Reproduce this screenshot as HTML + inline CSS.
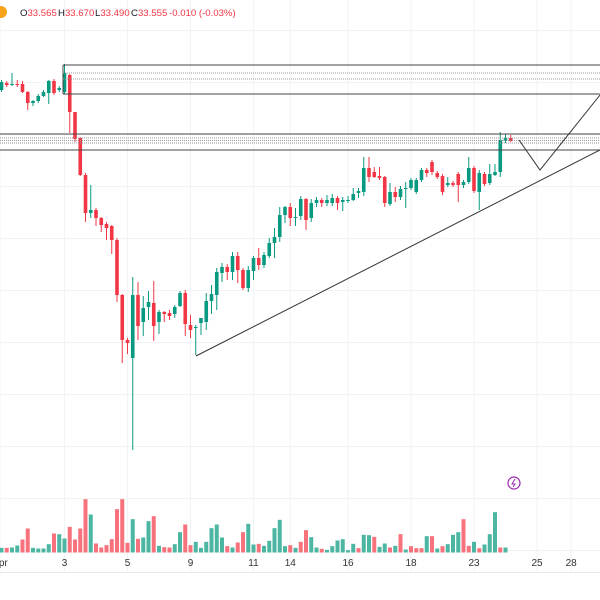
<!DOCTYPE html>
<html><head><meta charset="utf-8"><style>
html,body{margin:0;padding:0;background:#fff;}
svg{display:block;font-family:"Liberation Sans",sans-serif;}
</style></head><body>
<svg id="chart" width="600" height="600" viewBox="0 0 600 600">
<g id="grid"></g>
<g id="vol"></g>
<g id="candles"></g>
<g fill="none">
<path d="M63 65V94M63 65H600M63 94H600" stroke="#444" stroke-width="1"/>
<path d="M63 73H600M63 79H600" stroke="#999" stroke-dasharray="1,1"/>
<path d="M0 134H600M0 150H600" stroke="#444"/>
<path d="M0 138H600M0 140.5H600M0 143H600" stroke="#999" stroke-dasharray="1,1"/>
<path d="M196 356L600 150" stroke="#333"/>
<path d="M519 140L540 170L600 95" stroke="#333"/>
</g>
<g font-size="9.6">
<circle cx="1" cy="12" r="6" fill="#f7a21b"/>
<text y="16"><tspan x="20" fill="#131722">O</tspan><tspan fill="#f23645">33.565</tspan><tspan x="58" fill="#131722">H</tspan><tspan fill="#f23645">33.670</tspan><tspan x="95" fill="#131722">L</tspan><tspan fill="#f23645">33.490</tspan><tspan x="131" fill="#131722">C</tspan><tspan fill="#f23645">33.555</tspan><tspan x="169" fill="#f23645">-0.010 (-0.03%)</tspan></text>
</g>
<g>
<circle cx="514" cy="483" r="6" fill="none" stroke="#9c27b0" stroke-width="1.2"/>
<path d="M515 479L512 484H515L513 487" stroke="#9c27b0" fill="none" stroke-width="1"/>
</g>
<line x1="0" y1="572.5" x2="600" y2="572.5" stroke="#e8e8ea"/>
<g id="xaxis" font-size="10" fill="#333" text-anchor="middle"></g>
</svg>
<script>
const opens=[34.00,34.07,34.06,34.06,34.06,33.98,33.87,33.89,33.94,33.97,34.09,34.00,33.98,34.15,33.78,33.52,33.15,32.77,32.80,32.72,32.66,32.64,32.50,31.95,31.50,31.32,31.95,31.68,31.83,31.87,31.68,31.78,31.77,31.76,31.84,31.97,31.65,31.63,31.67,31.68,31.89,31.95,32.17,32.23,32.18,32.34,32.20,32.02,32.19,32.32,32.25,32.34,32.47,32.53,32.75,32.83,32.72,32.74,32.91,32.72,32.87,32.90,32.87,32.87,32.92,32.88,32.90,32.90,32.97,32.98,33.22,33.18,33.14,33.13,32.86,32.98,32.93,33.01,33.02,32.98,33.10,33.20,33.28,33.17,33.14,33.05,33.07,33.16,33.05,33.08,33.22,32.98,33.16,33.07,33.15,33.18,33.49,33.52];
const closes=[34.08,34.05,34.06,34.05,33.98,33.87,33.89,33.94,33.98,34.09,33.97,34.02,34.17,33.78,33.51,33.15,32.77,32.80,32.72,32.65,32.62,32.50,31.95,31.50,31.47,31.95,31.64,31.82,31.88,31.64,31.78,31.76,31.74,31.83,31.97,31.66,31.60,31.63,31.72,31.89,31.96,32.18,32.23,32.18,32.34,32.20,32.02,32.20,32.32,32.25,32.35,32.47,32.53,32.75,32.83,32.72,32.73,32.91,32.70,32.87,32.90,32.87,32.90,32.92,32.87,32.90,32.90,32.96,32.99,33.22,33.13,33.13,33.12,32.87,32.98,32.93,33.01,33.02,33.10,33.10,33.20,33.17,33.18,33.13,32.98,33.07,33.05,33.05,33.08,33.22,32.99,33.17,33.06,33.16,33.18,33.50,33.52,33.49];
const highs=[34.10,34.09,34.17,34.10,34.09,33.99,33.90,33.96,34.00,34.10,34.11,34.04,34.26,34.16,33.78,33.53,33.17,33.05,32.82,32.73,32.68,32.65,32.52,31.96,31.52,32.13,32.08,31.94,31.99,32.09,31.80,31.79,31.80,31.85,31.99,32.00,31.75,31.65,31.72,31.97,32.05,32.22,32.27,32.26,32.38,32.38,32.22,32.24,32.34,32.42,32.38,32.52,32.62,32.83,32.84,32.87,32.82,32.94,32.92,32.91,32.93,32.92,32.95,32.96,32.94,32.93,32.94,33.02,33.02,33.33,33.33,33.23,33.23,33.14,33.07,33.03,33.04,33.08,33.12,33.12,33.22,33.22,33.30,33.19,33.16,33.13,33.09,33.18,33.10,33.33,33.24,33.20,33.18,33.26,33.26,33.58,33.56,33.55];
const lows=[33.98,34.03,34.04,34.03,33.97,33.80,33.84,33.87,33.93,33.86,33.95,33.98,33.96,33.57,33.48,33.14,32.68,32.72,32.64,32.58,32.50,32.36,31.88,31.27,31.36,30.40,31.50,31.54,31.70,31.49,31.56,31.68,31.70,31.72,31.83,31.54,31.52,31.35,31.55,31.60,31.76,31.80,32.08,32.10,32.10,32.07,32.00,31.98,32.10,32.20,32.22,32.32,32.32,32.48,32.67,32.64,32.64,32.70,32.60,32.68,32.83,32.83,32.84,32.84,32.80,32.79,32.87,32.89,32.92,32.94,33.08,33.12,33.10,32.83,32.84,32.88,32.90,32.82,33.00,32.96,33.08,33.13,33.15,33.11,32.95,33.03,33.03,32.88,33.02,33.06,32.97,32.80,33.04,33.05,33.14,33.13,33.47,33.48];
const volumes=[14,14,15,21,39,72,14,12,12,25,57,55,42,77,39,72,160,114,27,15,22,40,130,160,29,100,41,45,94,109,20,16,15,25,61,84,22,32,14,32,73,84,45,19,15,30,61,86,24,26,20,35,73,98,19,22,14,32,67,46,15,11,8,19,36,40,7,26,13,53,52,47,17,27,15,20,55,9,19,13,13,49,49,12,19,25,53,61,100,20,32,13,24,55,121,15,15];
const volUp=[1,0,1,1,0,0,1,1,1,1,0,1,1,0,0,0,0,1,0,0,0,0,0,0,0,1,0,1,1,0,1,0,0,1,1,0,0,1,1,1,1,1,1,0,1,0,0,1,1,0,1,1,1,1,1,0,1,0,0,1,1,0,1,1,1,1,1,1,0,1,1,0,1,1,0,1,0,1,0,0,0,1,0,1,0,1,1,1,0,0,1,0,1,1,1,0,1,0,1];
const dateLabels=["Apr","3","5","9","11","14","16","18","23","25","28"];
const dateIdx=[-0.3,12,24,36,48,55,66,78,90,102,108.5];

const NS="http://www.w3.org/2000/svg";
const X0=1.5, STEP=5.25;
function xAt(i){return X0+i*STEP;}
function yPrice(p){return (34.9-p)*100;}
function yVol(v){return 552.5-v/3;}
function mk(tag,attrs,parent){const e=document.createElementNS(NS,tag);for(const k in attrs)e.setAttribute(k,attrs[k]);parent.appendChild(e);return e;}

const grid=document.getElementById('grid');
for(let y=30;y<560;y+=52){const l=mk('line',{x1:0,x2:600,y1:y+.5,y2:y+.5,stroke:'#f2f3f5'},grid);

}
const xa=document.getElementById('xaxis');
dateLabels.forEach((d,k)=>{const x=xAt(dateIdx[k]);
const l=mk('line',{x1:x,x2:x,y1:0,y2:572,stroke:'#f2f3f5'},grid);


const t=mk('text',{x:x,y:566},xa);t.textContent=d;

});

const vg=document.getElementById('vol');
volumes.forEach((v,i)=>{const x=xAt(i);const y=yVol(v);
const r=mk('rect',{x:x-2,y:y,width:4,height:552.5-y,fill:volUp[i]?'#4db6a3':'#f7727d'},vg);

});

const cg=document.getElementById('candles');
opens.forEach((o,i)=>{const c=closes[i],x=xAt(i);const up=c>=o;const col=up?'#089981':'#f23645';
const w=mk('line',{x1:x,x2:x,y1:yPrice(highs[i]),y2:yPrice(lows[i]),stroke:col,'stroke-width':1},cg);


const yt=Math.min(yPrice(o),yPrice(c));const h=Math.max(1,Math.abs(yPrice(o)-yPrice(c)));
const b=mk('rect',{x:x-1.8,y:yt,width:3.6,height:h,fill:col},cg);

});
</script>
</body></html>
